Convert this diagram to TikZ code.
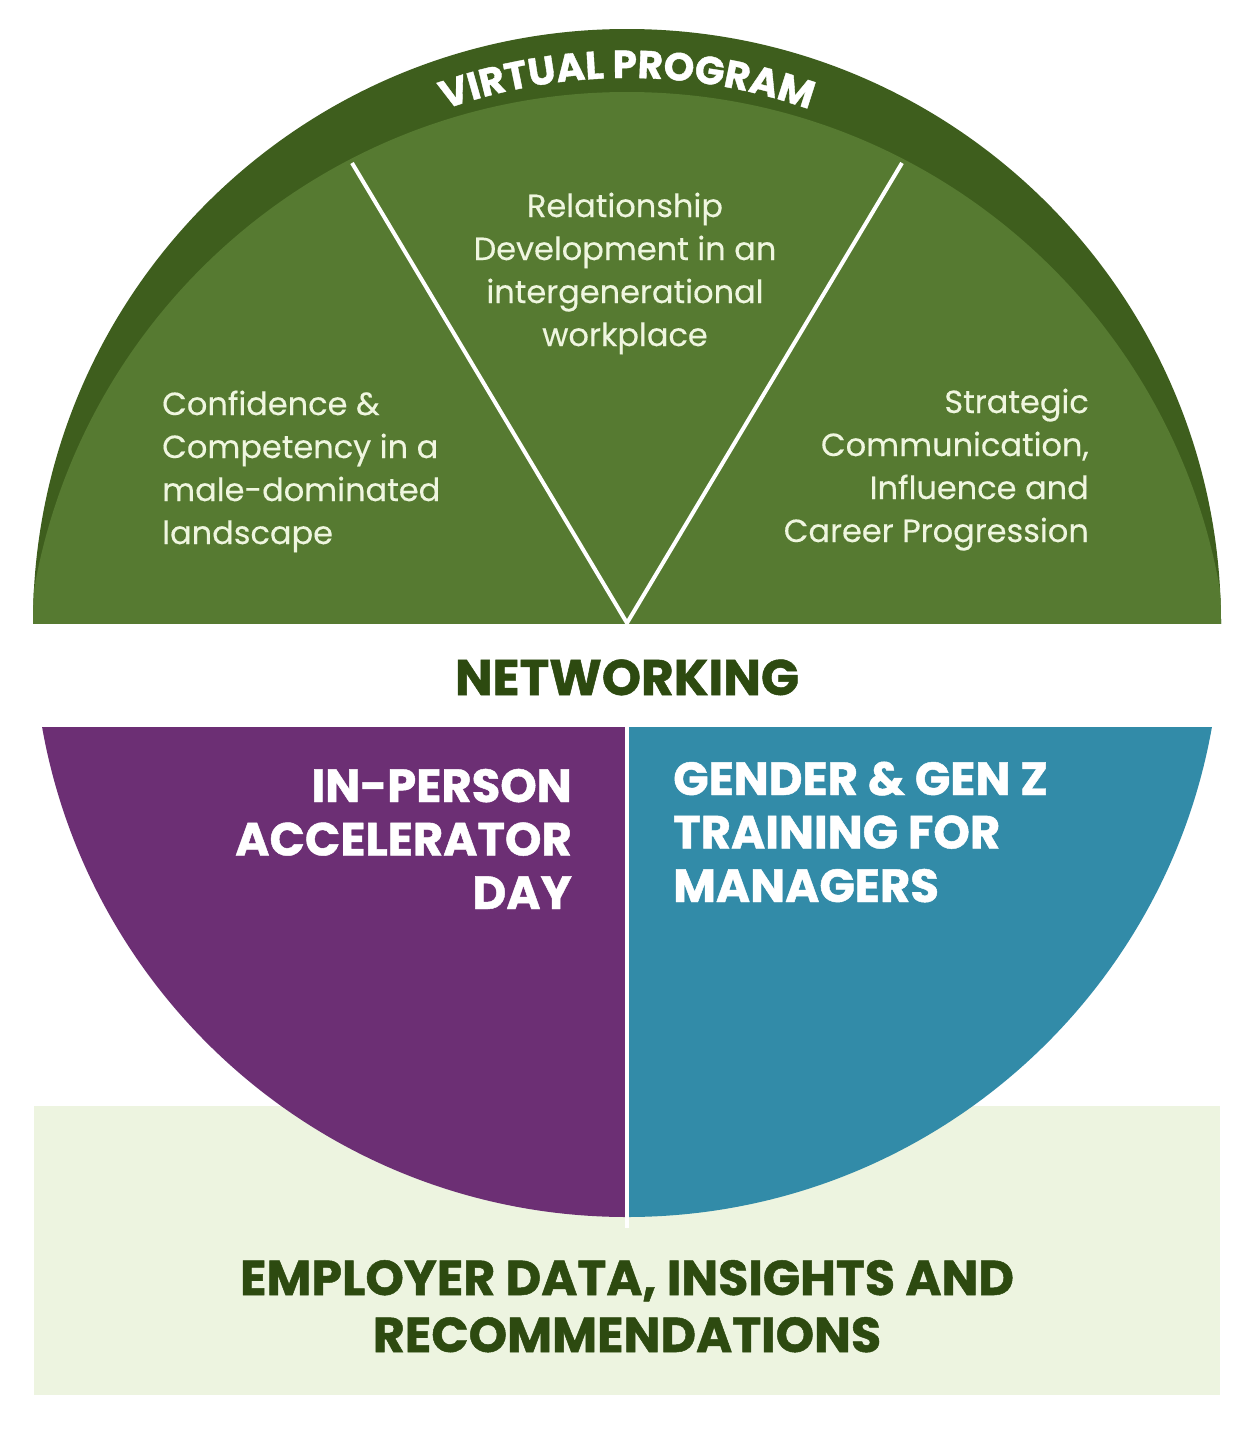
\documentclass[tikz,border=0pt]{standalone}
\usepackage{fontspec}
\setmainfont[FakeBold=0.3]{Poppins}
\newfontfamily\headfont[FakeBold=1]{Poppins}
\usepackage{tikz}
\usetikzlibrary{positioning}
\usetikzlibrary{decorations.text}
\usepackage{xcolor}
\definecolor{ringgreen}{HTML}{3E5E1D}
\definecolor{leafgreen}{HTML}{567A31}
\definecolor{plum}{HTML}{6C2F74}
\definecolor{teal}{HTML}{328BA8}
\definecolor{mint}{HTML}{EDF4E0}
\definecolor{forest}{HTML}{2D4A10}
\definecolor{cream}{HTML}{EFF6DF}

\begin{document}
\begin{tikzpicture}[x=1pt, y=-1pt,
    bodytext/.style={inner sep=0pt, text=cream, font=\fontsize{32}{43}\selectfont},
    headtext/.style={inner sep=0pt, font=\headfont\bfseries\fontsize{46.5}{53.5}\selectfont}]
    \useasboundingbox[fill=white] (0, 0) rectangle (1255, 1440);
    \coordinate (hub) at (627, 623);
    \coordinate (apex) at (627, 623);
    \coordinate (leftrim) at (352, 163);
    \coordinate (rightrim) at (902, 163);
    \coordinate (split) at (627, 727);
    \coordinate (splitend) at (627, 1228);
    \fill[mint] (34, 1106) rectangle (1220, 1395);
    \begin{scope}
      \clip (0, 0) rectangle (1255, 623);
      \fill[ringgreen] (hub) circle (594pt);
      \clip (hub) circle (594pt);
      \fill[leafgreen] (627, 694) circle (602pt);
    \end{scope}
    \begin{scope}
      \clip (0, 727) rectangle (627, 1440);
      \fill[plum] (hub) circle (594pt);
    \end{scope}
    \begin{scope}
      \clip (627, 727) rectangle (1255, 1440);
      \fill[teal] (hub) circle (594pt);
    \end{scope}
    \path[draw, white, line width=4pt] (leftrim) -- (apex) -- (rightrim);
    \path[draw, white, line width=4pt] (split) -- (splitend);
    \path[decorate, decoration={text along path, text align=center, text color=white,
        text={|\headfont\bfseries\fontsize{39}{39}\selectfont|VIRTUAL PROGRAM}}]
      (hub) ++(112:545pt) arc[start angle=112, end angle=68, radius=545pt];
    \node[bodytext, anchor=base west, align=left] (confidence) at (162, 544) {Confidence \&\\Competency in a\\male-dominated\\landscape};
    \node[bodytext, anchor=base, align=center] (relationship) at (625, 346) {Relationship\\Development in an\\intergenerational\\workplace};
    \node[bodytext, anchor=base east, align=right] (strategic) at (1089, 542) {Strategic\\Communication,\\Influence and\\Career Progression};
    \node[headtext, text=forest, anchor=base, font=\headfont\bfseries\fontsize{50}{50}\selectfont] (networking) at (627, 695) {NETWORKING};
    \node[headtext, text=white, anchor=base east, align=right] (inperson) at (572, 909) {IN-PERSON\\ACCELERATOR\\DAY};
    \node[headtext, text=white, anchor=base west, align=left] (genz) at (673, 902) {GENDER \& GEN Z\\TRAINING FOR\\MANAGERS};
    \node[headtext, text=forest, anchor=base, align=center, font=\headfont\bfseries\fontsize{49}{57}\selectfont] (employer) at (627, 1352) {EMPLOYER DATA, INSIGHTS AND\\RECOMMENDATIONS};
  \end{tikzpicture}
\end{document}
